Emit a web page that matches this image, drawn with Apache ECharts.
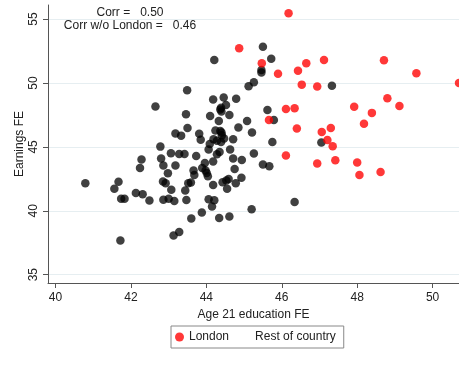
<!DOCTYPE html>
<html>
<head>
<meta charset="utf-8">
<script src="https://cdn.jsdelivr.net/npm/echarts@6/dist/echarts.min.js"></script>
<style>html,body{margin:0;padding:0;background:#fff}#c{width:459px;height:365px}</style>
</head>
<body>
<div id="c"></div>
<script>
const xTicks = [40, 42, 44, 46, 48, 50];
const yTicks = [35, 40, 45, 50, 55];

const londonX = [46.18,44.87,45.47,45.90,46.43,46.65,47.12,48.71,49.57,50.70,46.53,46.94,48.80,49.12,47.92,48.39,48.18,46.11,46.34,45.66,46.40,47.06,47.30,47.21,47.35,46.11,46.94,47.42,48.00,48.06,48.62];
const londonY = [55.45,52.71,51.54,50.73,50.96,51.54,51.80,51.77,50.76,50.00,49.87,49.73,48.80,48.20,48.13,47.66,46.80,47.97,48.02,47.11,46.43,46.17,46.48,45.53,45.05,44.32,43.70,43.96,43.77,42.80,43.03];

const restX = [44.21,43.49,42.65,44.18,44.46,44.39,44.37,44.40,44.52,44.61,44.10,44.33,43.46,43.50,43.18,43.33,43.81,43.85,44.24,44.37,44.40,44.09,44.19,44.28,44.41,44.39,44.47,42.78,45.12,45.26,44.79,45.08,44.85,45.21,44.63,43.06,43.28,43.42,43.73,44.06,44.71,44.28,44.35,45.26,44.71,44.94,43.18,43.96,44.18,44.75,42.98,43.66,43.68,43.89,43.98,44.01,44.04,44.93,44.78,44.43,44.53,44.59,44.18,44.55,43.59,43.52,42.92,42.85,43.44,43.07,43.00,43.15,42.86,43.47,44.06,44.21,44.15,45.20,43.88,43.60,44.34,44.61,43.28,43.13,40.79,41.56,41.67,41.74,41.83,42.13,42.31,42.49,42.24,42.28,41.72,42.80,42.86,45.50,45.72,45.46,45.46,47.33,45.62,45.79,45.75,47.05,45.50,45.67,46.34];
const restY = [51.80,49.43,48.15,48.70,48.87,48.07,47.93,47.76,48.28,47.50,47.42,47.03,47.56,46.48,46.05,45.88,46.02,45.55,46.29,46.25,46.13,45.23,45.59,45.47,45.90,45.39,45.65,45.02,49.74,50.05,48.77,47.03,46.52,46.12,44.80,44.51,44.45,44.45,44.28,44.80,45.59,44.43,44.59,44.48,44.09,43.98,43.54,43.73,43.85,43.26,42.93,43.15,42.80,43.34,43.16,42.95,42.70,42.59,42.16,42.24,42.37,42.48,42.01,41.72,42.21,42.16,42.15,42.29,41.58,41.64,40.94,40.77,40.86,40.84,40.91,40.82,40.34,40.12,39.87,39.40,39.43,39.55,38.34,38.06,42.16,41.72,42.27,40.94,40.94,41.39,41.30,40.80,43.34,44.02,37.67,44.09,43.55,52.84,51.89,51.02,50.82,49.79,47.89,47.11,45.39,45.35,43.62,43.49,40.69];

const zip = (a, b) => a.map((v, i) => [v, b[i]]);
const font = 'Liberation Sans, Arial, sans-serif';

const chart = echarts.init(document.getElementById('c'), null, {renderer: 'canvas'});
chart.setOption({
  animation: false,
  backgroundColor: '#fff',
  grid: {left: 48, right: 0, top: 5, bottom: 82, containLabel: false},
  xAxis: {
    type: 'value', min: 39.8, max: 50.7,
    name: 'Age 21 education FE', nameLocation: 'middle', nameGap: 21,
    nameTextStyle: {fontFamily: font, fontSize: 12, color: '#222'},
    axisLine: {show: true, onZero: false, lineStyle: {color: '#555', width: 1}},
    axisTick: {show: true, length: 5, lineStyle: {color: '#555'}, customValues: xTicks},
    axisLabel: {fontFamily: font, fontSize: 12, color: '#222', margin: 9, customValues: xTicks},
    splitLine: {show: false}
  },
  yAxis: {
    type: 'value', min: 34.35, max: 56.1,
    name: 'Earnings FE', nameLocation: 'middle', nameGap: 22, nameRotate: 90,
    nameMoveOverlap: false,
    nameTextStyle: {fontFamily: font, fontSize: 12, color: '#222'},
    axisLine: {show: true, onZero: false, lineStyle: {color: '#555', width: 1}},
    axisTick: {show: true, length: 5, lineStyle: {color: '#555'}, customValues: yTicks},
    axisLabel: {fontFamily: font, fontSize: 12, color: '#222', margin: 8, rotate: 90, customValues: yTicks},
    splitLine: {show: true, lineStyle: {color: '#e6eef1', width: 1}}
  },
  legend: {
    left: 171, top: 326, orient: 'horizontal',
    padding: [5, 8, 5, 4], itemGap: 12, itemWidth: 9, itemHeight: 9,
    borderColor: '#888', borderWidth: 1,
    textStyle: {fontFamily: font, fontSize: 12, color: '#222'},
    data: [
      {name: 'London', icon: 'circle'},
      {name: 'Rest of country', icon: 'circle', itemStyle: {color: 'rgba(0,0,0,0)', opacity: 0}}
    ]
  },
  graphic: [
    {type: 'text', position: [130, 7], style: {text: 'Corr =   0.50', fontFamily: font, fontSize: 12, fill: '#222', textAlign: 'center'}},
    {type: 'text', position: [130, 20], style: {text: 'Corr w/o London =   0.46', fontFamily: font, fontSize: 12, fill: '#222', textAlign: 'center'}}
  ],
  series: [
    {
      name: 'Rest of country', type: 'scatter', symbol: 'circle', symbolSize: 8.5,
      itemStyle: {color: '#000', opacity: 0.75},
      data: zip(restX, restY)
    },
    {
      name: 'London', type: 'scatter', symbol: 'circle', symbolSize: 8.5,
      itemStyle: {color: '#ff0000', opacity: 0.78},
      data: zip(londonX, londonY)
    }
  ]
});
</script>
</body>
</html>
